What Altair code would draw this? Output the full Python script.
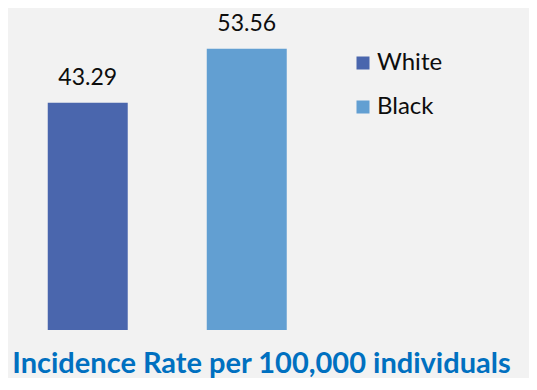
import altair as alt
import pandas as pd

categories = ["White", "Black"]
values = [43.29, 53.56]
labels = ["43.29", "53.56"]
colors = ["#4a66ad", "#629fd2"]

df = pd.DataFrame({"race": categories, "value": values, "label": labels})

xscale = alt.Scale(domain=categories, range=[0, 318.5], paddingInner=0.497, paddingOuter=0.25)
yscale = alt.Scale(domain=[0, 61.33], range=[322, 0], nice=False)

base = alt.Chart(df).encode(
    x=alt.X("race:N", scale=xscale, axis=None, sort=categories),
    y=alt.Y("value:Q", scale=yscale, axis=None),
)

bars = base.mark_bar().encode(
    color=alt.Color(
        "race:N",
        scale=alt.Scale(domain=categories, range=colors),
        legend=alt.Legend(
            title=None, orient="none", legendX=343, legendY=43,
            symbolType="square", symbolSize=169, symbolStrokeWidth=0,
            labelFont="Lato", labelFontSize=24, labelColor="#0d0d0d",
            rowPadding=20, labelOffset=2, padding=0,
        ),
    )
)

text = base.mark_text(dy=-18, baseline="alphabetic", fontSize=23, font="Lato", color="#0d0d0d").encode(
    text="label:N"
)

chart = (bars + text).properties(
    width=521, height=331, autosize="none",
    padding={"left": 0, "top": 0, "right": 0, "bottom": 39},
    background="#f2f2f2",
    title=alt.Title("Incidence Rate per 100,000 individuals", orient="bottom", fontSize=29,
                    font="Lato", fontWeight="bold", color="#0070c0", offset=11, dx=-7),
).configure_view(stroke=None)

chart.save("out.html", embed_options={"renderer": "svg", "actions": False})
